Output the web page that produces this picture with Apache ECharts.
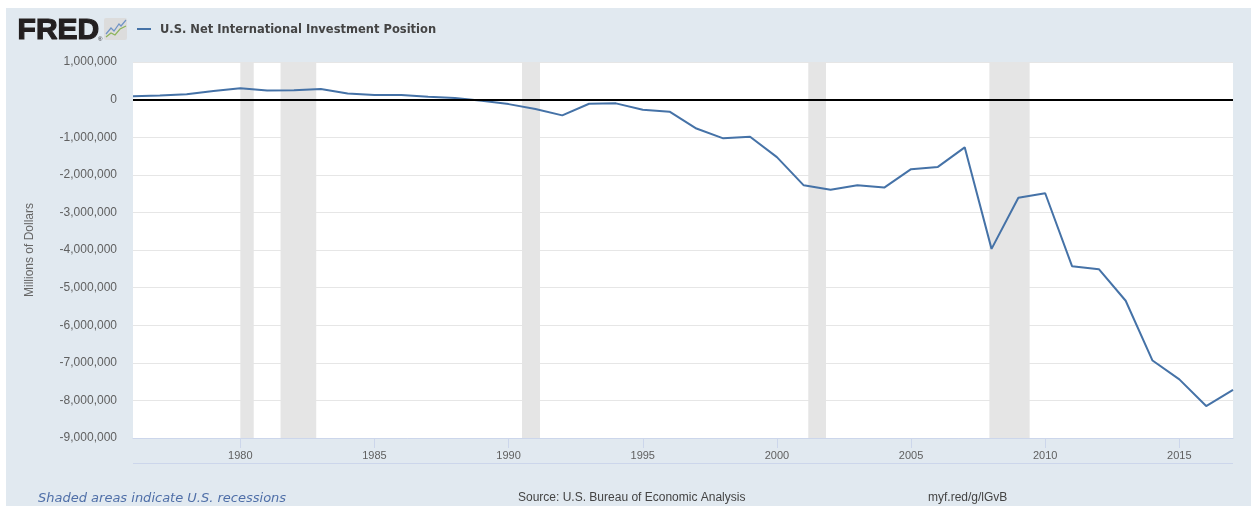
<!DOCTYPE html>
<html>
<head>
<meta charset="utf-8">
<script src="https://cdn.jsdelivr.net/npm/echarts@6/dist/echarts.min.js"></script>
<style>
  html, body { margin: 0; padding: 0; background: #fff; }
  #chart { width: 1251px; height: 506px; }
</style>
</head>
<body>
<div id="chart"></div>
<script>
// annual observations, millions of dollars
const years = [1976, 1977, 1978, 1979, 1980, 1981, 1982, 1983, 1984, 1985,
  1986, 1987, 1988, 1989, 1990, 1991, 1992, 1993, 1994, 1995,
  1996, 1997, 1998, 1999, 2000, 2001, 2002, 2003, 2004, 2005,
  2006, 2007, 2008, 2009, 2010, 2011, 2012, 2013, 2014, 2015,
  2016, 2017];
const niip = [90000, 110000, 140000, 230000, 300000, 240000, 250000, 280000, 160000, 120000,
  120000, 75000, 40000, -30000, -120000, -250000, -420000, -110000, -100000, -270000,
  -320000, -770000, -1030000, -990000, -1530000, -2280000, -2400000, -2280000, -2340000, -1850000,
  -1790000, -1270000, -3970000, -2610000, -2490000, -4430000, -4510000, -5350000, -6940000, -7440000,
  -8150000, -7720000];

// recessions as [start, end] in decimal years
const recessions = [[1980.0, 1980.5], [1981.5, 1982.83], [1990.5, 1991.17], [2001.17, 2001.83], [2007.92, 2009.42]];

const yearTicks = [1980, 1985, 1990, 1995, 2000, 2005, 2010, 2015];
const yMin = -9000000, yMax = 1000000, yStep = 1000000;

const chart = echarts.init(document.getElementById('chart'));

chart.setOption({
  backgroundColor: '#ffffff',
  animation: false,
  grid: {
    left: 133, right: 18, top: 62, bottom: 68,
    show: true, backgroundColor: '#ffffff', borderWidth: 0
  },
  graphic: [
    { type: 'rect', z: -10, shape: { x: 6, y: 8, width: 1245, height: 498 }, style: { fill: '#e1e9f0' } },
    // FRED logo
    { type: 'text', left: 17, top: 15, style: { text: 'FRED', font: 'bold 30px "Liberation Sans"', fill: '#231f20', stroke: '#231f20', lineWidth: 1.2 } },
    { type: 'text', left: 98, top: 36, style: { text: '®', font: '6px "Liberation Sans"', fill: '#231f20' } },
    { type: 'rect', shape: { x: 104, y: 18, width: 23, height: 22, r: 2 }, style: { fill: '#dcdcdc' } },
    { type: 'polyline', shape: { points: [[106, 34], [111, 28], [114, 31], [119, 24], [121, 26], [126, 20]] }, style: { stroke: '#6f93c6', lineWidth: 1.2, fill: null } },
    { type: 'polyline', shape: { points: [[106, 37], [111, 33], [115, 35], [120, 29], [126, 26]] }, style: { stroke: '#8bb35a', lineWidth: 1.2, fill: null } },
    // legend
    { type: 'line', shape: { x1: 137, y1: 29, x2: 151, y2: 29 }, style: { stroke: '#4572a7', lineWidth: 2 } },
    { type: 'text', left: 160, top: 24, style: { text: 'U.S. Net International Investment Position', font: 'bold 11.5px "DejaVu Sans"', fill: '#444444' } },
    // navigator line under the x labels
    { type: 'line', shape: { x1: 133, y1: 463.5, x2: 1233, y2: 463.5 }, style: { stroke: '#ccd6eb', lineWidth: 1 } },
    // footer
    { type: 'text', left: 38, top: 492, style: { text: 'Shaded areas indicate U.S. recessions', font: 'italic 13px "DejaVu Sans"', fill: '#4f6fa8' } },
    { type: 'text', left: 518, top: 492, style: { text: 'Source: U.S. Bureau of Economic Analysis', font: '12px "Liberation Sans"', fill: '#444444' } },
    { type: 'text', left: 928, top: 492, style: { text: 'myf.red/g/lGvB', font: '12px "Liberation Sans"', fill: '#444444' } }
  ],
  xAxis: {
    type: 'value',
    min: years[0],
    max: years[years.length - 1],
    axisLine: { show: true, onZero: false, lineStyle: { color: '#ccd6eb', width: 1 } },
    axisTick: { show: true, customValues: yearTicks, length: 10, lineStyle: { color: '#ccd6eb' } },
    axisLabel: {
      customValues: yearTicks,
      formatter: v => String(v),
      color: '#606060', fontSize: 11, fontFamily: 'Liberation Sans', margin: 12
    },
    splitLine: { show: false }
  },
  yAxis: {
    type: 'value',
    min: yMin, max: yMax, interval: yStep,
    name: 'Millions of Dollars',
    nameLocation: 'middle',
    nameRotate: 90,
    nameGap: 97,
    nameTextStyle: { color: '#666666', fontSize: 12, fontFamily: 'Liberation Sans' },
    axisLine: { show: false },
    axisTick: { show: false },
    axisLabel: {
      formatter: v => v.toLocaleString('en-US'),
      color: '#606060', fontSize: 12, fontFamily: 'Liberation Sans', margin: 16
    },
    splitLine: { lineStyle: { color: '#e6e6e6', width: 1 } }
  },
  series: [
    {
      type: 'line',
      data: years.map((y, i) => [y, niip[i]]),
      showSymbol: false,
      lineStyle: { color: '#4572a7', width: 2 },
      itemStyle: { color: '#4572a7' },
      markArea: {
        silent: true,
        itemStyle: { color: '#e5e5e5' },
        data: recessions.map(r => [{ xAxis: r[0] }, { xAxis: r[1] }])
      },
      markLine: {
        silent: true,
        symbol: 'none',
        label: { show: false },
        lineStyle: { color: '#000000', width: 2, type: 'solid' },
        data: [{ yAxis: 0 }]
      },
      z: 3
    }
  ]
});
</script>
</body>
</html>
